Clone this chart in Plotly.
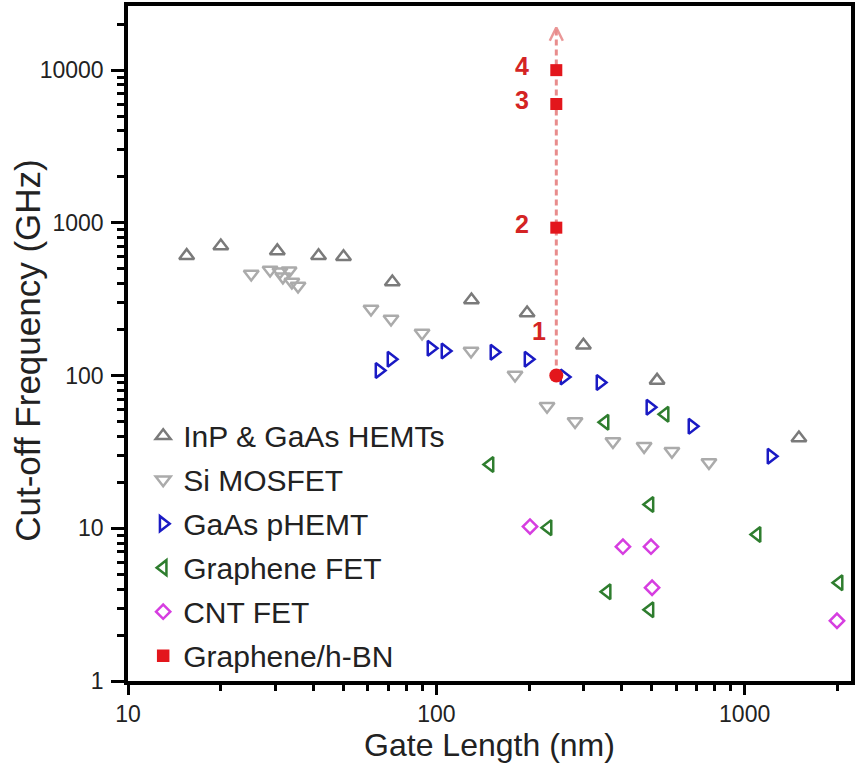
import math
import plotly.graph_objects as go

# ---------------- data ----------------
hemt_x = [15.5, 20, 30.5, 41.5, 50, 72, 130, 197, 300, 520, 1500]
hemt_y = [610, 705, 655, 608, 600, 410, 312, 257, 158, 93, 39]

si_x = [25.1, 28.9, 31.1, 33.3, 31.8, 34.0, 35.6, 61.4, 71.3, 89.9, 129.6, 180, 228.6, 281.8, 374, 472, 581, 766]
si_y = [463, 492, 478, 485, 443, 410, 386, 273, 235, 190, 145, 101, 63, 50, 37, 34.4, 32, 27]

phemt_x = [65.2, 71.3, 96.1, 106.7, 153.8, 198.4, 259.5, 339.6, 493, 675, 1218]
phemt_y = [108, 128, 151, 145, 142, 128, 98, 90, 62, 46.5, 29.6]

gfet_x = [149.3, 230.3, 352.5, 552, 493, 1097, 358, 493, 2024]
gfet_y = [26.2, 10.1, 49.4, 55.8, 14.3, 9.1, 3.84, 2.93, 4.4]

cnt_x = [201.3, 403, 497, 501, 1993]
cnt_y = [10.26, 7.58, 7.58, 4.08, 2.48]

hbn_x = [245, 245, 245, 245]
hbn_y = [930, 6000, 10000, 100]
hbn_labels = ["2", "3", "4", "1"]
hbn_symbols = ["square", "square", "square", "circle"]
arrow_top = 19000

x_ticks = [10, 100, 1000]
y_ticks = [1, 10, 100, 1000, 10000]

# ---------------- styling ----------------
FONT = "Liberation Sans, Arial, Helvetica, sans-serif"
LW = 2.5

fig = go.Figure()

# dashed projection line with open chevron head
fig.add_trace(go.Scatter(
    x=[hbn_x[3], hbn_x[3]], y=[min(hbn_y), arrow_top], mode="lines",
    line=dict(color="rgba(228,120,120,0.85)", width=3, dash="6px,4px"),
    showlegend=False, hoverinfo="skip"))
fig.add_trace(go.Scatter(
    x=[hbn_x[3] / 1.05, hbn_x[3], hbn_x[3] * 1.05],
    y=[arrow_top / 1.22, arrow_top, arrow_top / 1.22], mode="lines",
    line=dict(color="rgba(232,140,140,0.9)", width=2.5),
    showlegend=False, hoverinfo="skip"))

def add(name, x, y, symbol, color, size):
    fig.add_trace(go.Scatter(
        x=x, y=y, mode="markers", name=name, legendgroup=name,
        marker=dict(symbol=symbol, size=size, color=color, opacity=1,
                    line=dict(color=color, width=LW))))

add("InP & GaAs HEMTs", hemt_x, hemt_y, "triangle-up-open", "#7a7a7a", 13)
add("Si MOSFET", si_x, si_y, "triangle-down-open", "#ababab", 13)
add("GaAs pHEMT", phemt_x, phemt_y, "triangle-right-open", "#1a1ac4", 13)
add("Graphene FET", gfet_x, gfet_y, "triangle-left-open", "#2e7d2e", 13)
add("CNT FET", cnt_x, cnt_y, "diamond-open", "#d63ee0", 11)

fig.add_trace(go.Scatter(
    x=hbn_x, y=hbn_y, mode="markers", name="Graphene/h-BN", legendgroup="hbn",
    marker=dict(symbol=hbn_symbols, size=[12, 12, 12, 14], color="#e3161c",
                opacity=1, line=dict(width=0))))

for xv, yv, lab in zip(hbn_x, hbn_y, hbn_labels):
    if lab == "1":
        xs, ys = -17, 45
    else:
        xs, ys = -34, 4
    fig.add_annotation(x=math.log10(xv), y=math.log10(yv), xref="x", yref="y",
                       text=lab, showarrow=False, xshift=xs, yshift=ys,
                       font=dict(family=FONT, size=25, color="#d42424", weight="bold"))

# y-axis title as rotated annotation for precise placement
fig.add_annotation(x=-0.139, y=0.49, xref="paper", yref="paper",
                   text="Cut-off Frequency (GHz)", textangle=-90, showarrow=False,
                   xanchor="center", yanchor="middle",
                   font=dict(family=FONT, size=35, color="#222"))

axis_common = dict(
    type="log", showgrid=False, zeroline=False,
    showline=True, linecolor="black", linewidth=3.5, mirror=True,
    ticks="outside", tickcolor="black", tickwidth=2.5,
    tickfont=dict(family=FONT, size=23, color="#222"),
)

fig.update_xaxes(
    **axis_common, range=[1, 3.345], tickvals=x_ticks,
    ticktext=[str(v) for v in x_ticks], ticklen=10,
    minor=dict(tickvals=[20, 30, 40, 50, 60, 70, 80, 90,
                         200, 300, 400, 500, 600, 700, 800, 900, 2000],
               ticks="outside", ticklen=6, tickwidth=2.5, tickcolor="black"),
    title=dict(text="Gate Length (nm)", font=dict(family=FONT, size=32, color="#222"),
               standoff=0),
)
fig.update_yaxes(
    **axis_common, range=[0, 4.42], tickvals=y_ticks,
    ticktext=[str(v) for v in y_ticks], ticklen=13, ticklabelstandoff=3,
    minor=dict(tickvals=[m * d for d in [1, 10, 100, 1000, 10000]
                         for m in range(2, 10) if m * d < 26000],
               ticks="outside", ticklen=7, tickwidth=2.5, tickcolor="black"),
)

fig.update_layout(
    width=857, height=771,
    margin=dict(l=128, r=6, t=6, b=90, autoexpand=False),
    paper_bgcolor="white", plot_bgcolor="white",
    showlegend=True,
    legend=dict(x=0.021, y=-0.001, xanchor="left", yanchor="bottom",
                bgcolor="rgba(0,0,0,0)", tracegroupgap=2,
                font=dict(family=FONT, size=30, color="#222")),
)

fig.write_html("out.html", config={"displayModeBar": False},
               post_script="document.body.style.margin='0';document.body.style.padding='0';")
